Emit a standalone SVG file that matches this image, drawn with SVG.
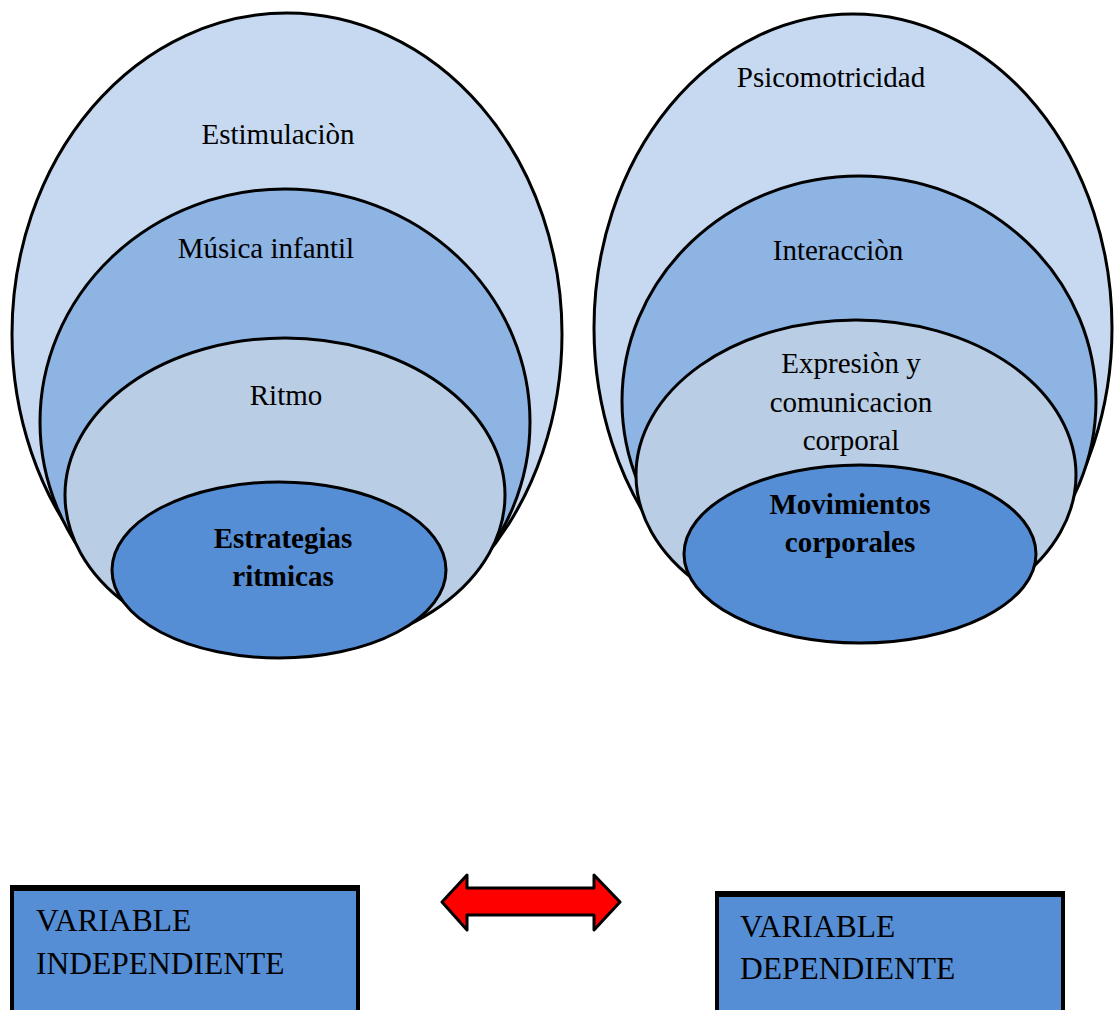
<svg xmlns="http://www.w3.org/2000/svg" width="1117" height="1010" viewBox="0 0 1117 1010">
<style>
.e{stroke:#000;stroke-width:3}
.l1{fill:#C6D9F1}.l2{fill:#8EB4E3}.l3{fill:#B9CDE5}.l4{fill:#558ED5}
.t{font-family:"Liberation Serif","Times New Roman",serif;font-size:29px;fill:#000;text-anchor:middle}
.b{font-weight:bold}
.bx{fill:#558ED5;stroke:#000;stroke-width:4}
.tl{stroke:#000;stroke-width:6}
.bt{font-family:"Liberation Serif","Times New Roman",serif;font-size:31.5px;fill:#000}
</style>
<rect width="1117" height="1010" fill="#fff"/>
<g id="left">
<g id="estimulacion"><ellipse class="e l1" cx="287" cy="334" rx="275" ry="321"/><text class="t" x="278" y="144">Estimulaciòn</text></g>
<g id="musica"><ellipse class="e l2" cx="285" cy="422" rx="245" ry="233"/><text class="t" x="266" y="258">Música infantil</text></g>
<g id="ritmo"><ellipse class="e l3" cx="285" cy="495" rx="220" ry="157"/><text class="t" x="286" y="405">Ritmo</text></g>
<g id="estrategias"><ellipse class="e l4" cx="279" cy="570" rx="167" ry="88"/><text class="t b" x="283" y="548">Estrategias</text><text class="t b" x="283" y="586">ritmicas</text></g>
</g>
<g id="right">
<g id="psicomotricidad"><ellipse class="e l1" cx="853" cy="328" rx="259" ry="314"/><text class="t" x="831" y="87">Psicomotricidad</text></g>
<g id="interaccion"><ellipse class="e l2" cx="859" cy="401" rx="237" ry="225"/><text class="t" x="838" y="260">Interacciòn</text></g>
<g id="expresion"><ellipse class="e l3" cx="856" cy="475" rx="220" ry="155"/><text class="t" x="851" y="373">Expresiòn y</text><text class="t" x="851" y="412">comunicacion</text><text class="t" x="851" y="450">corporal</text></g>
<g id="movimientos"><ellipse class="e l4" cx="860" cy="554" rx="176" ry="89"/><text class="t b" x="850" y="514">Movimientos</text><text class="t b" x="850" y="552">corporales</text></g>
</g>
<g id="connectors">
<path d="M442,902 L467,875 L467,888 L594,888 L594,875 L620,902 L594,930 L594,915 L467,915 L467,930 Z" fill="#FF0000" stroke="#000" stroke-width="3" stroke-linejoin="round"/>
</g>
<g id="var-independiente"><rect class="bx" x="12" y="888" width="346" height="130"/><line class="tl" x1="10" y1="888" x2="360" y2="888"/><text class="bt" x="36" y="931">VARIABLE</text><text class="bt" x="36" y="974">INDEPENDIENTE</text></g>
<g id="var-dependiente"><rect class="bx" x="717" y="894" width="346" height="130"/><line class="tl" x1="715" y1="894" x2="1065" y2="894"/><text class="bt" x="740" y="937">VARIABLE</text><text class="bt" x="740" y="979">DEPENDIENTE</text></g>
</svg>
